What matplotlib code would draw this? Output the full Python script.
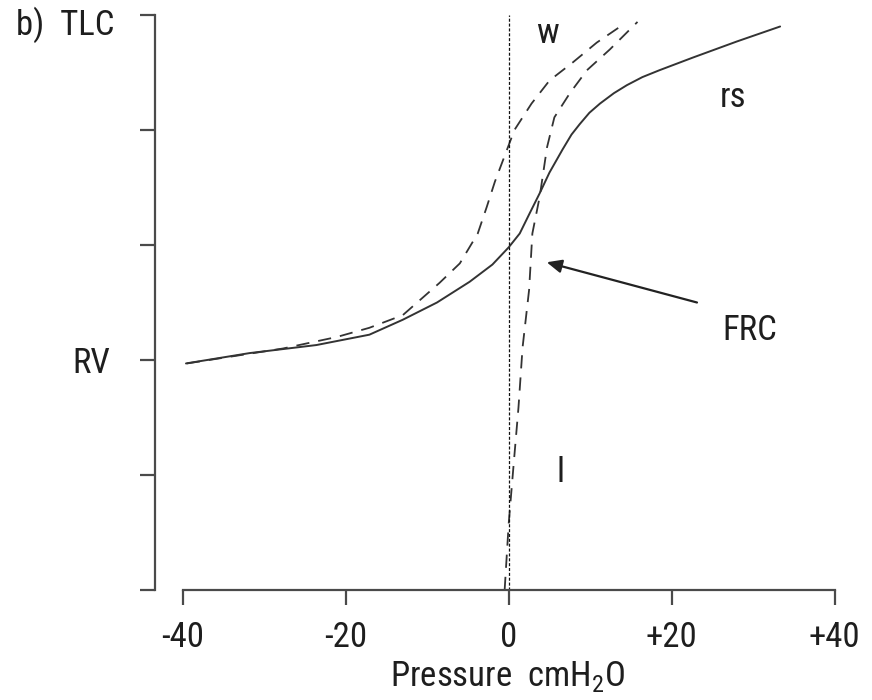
import matplotlib
matplotlib.use("Agg")
import matplotlib.pyplot as plt
from matplotlib import font_manager

# pressure (cmH2O) / volume (RV = 2, TLC = 5)
rs_x = [-39.6, -31.8, -23.6, -17.1, -13.0, -8.8, -4.8, -2.0, 0.0, 1.35, 2.6, 3.8,
        5.0, 6.6, 7.7, 8.7, 9.9, 11.2, 12.9, 14.5, 16.4, 18.5, 22.6, 28.0, 33.3]
rs_y = [1.97, 2.06, 2.13, 2.22, 2.35, 2.50, 2.68, 2.83, 2.98, 3.10, 3.28, 3.45,
        3.63, 3.83, 3.96, 4.05, 4.15, 4.23, 4.32, 4.39, 4.46, 4.52, 4.63, 4.77, 4.90]

w_x = [-39.5, -27.7, -21.1, -17.1, -13.0, -8.5, -6.0, -3.8, -2.7, -1.7, -0.1,
       0.7, 2.8, 5.0, 7.9, 10.8, 13.9]
w_y = [1.97, 2.10, 2.20, 2.28, 2.39, 2.67, 2.84, 3.10, 3.33, 3.55, 3.85,
       4.00, 4.23, 4.43, 4.59, 4.76, 4.91]

l_x = [-0.5, 0.0, 0.6, 1.2, 1.7, 2.5, 2.9, 3.8, 4.7, 5.6, 7.5, 9.6, 12.4, 15.8]
l_y = [0.0, 0.58, 1.09, 1.59, 2.11, 2.61, 3.10, 3.42, 3.85, 4.11, 4.32, 4.52, 4.70, 4.94]

x_ticks = [-40, -20, 0, 20, 40]
x_tick_labels = ["-40", "-20", "0", "+20", "+40"]
y_ticks = [0, 1, 2, 3, 4, 5]
y_tick_labels = ["", "", "RV", "", "", ""]

# prefer a condensed face if one is around
names = {f.name for f in font_manager.fontManager.ttflist}
narrow = [n for n in ['Liberation Sans Narrow', 'Roboto Condensed', 'Open Sans Condensed',
                      'DejaVu Sans Condensed'] if n in names]
plt.rcParams['font.family'] = narrow + ['Liberation Sans', 'DejaVu Sans']
plt.rcParams['font.stretch'] = 'condensed'
plt.rcParams['mathtext.fontset'] = 'custom'
plt.rcParams['mathtext.rm'] = (narrow + ['Liberation Sans'])[0]
plt.rcParams['lines.scale_dashes'] = False

LINE = '#333333'
AXC = '#4a4a4a'
TXT = '#1e1e1e'
FS = 25

fig = plt.figure(figsize=(8.72, 7.0), dpi=100)
ax = fig.add_axes([155 / 872, 110 / 700, 705 / 872, 575 / 700])
ax.set_xlim(-43.4, 43.1)
ax.set_ylim(0, 5)

ax.plot(rs_x, rs_y, color=LINE, lw=1.4, solid_capstyle='round')
ax.plot(w_x, w_y, color=LINE, lw=1.3, linestyle=(0, (9.5, 6.5)))
ax.plot(l_x, l_y, color=LINE, lw=1.3, linestyle=(0, (9.5, 6.5)), clip_on=False)
ax.plot([0, 0], [0, 5], color='#111111', lw=0.9, linestyle=(0, (2.2, 1.3)), clip_on=False)

ax.annotate('', xy=(4.66, 2.85), xytext=(23.1, 2.50),
            arrowprops=dict(arrowstyle='-|>,head_length=0.9,head_width=0.4',
                            color='#222222', lw=1.6, shrinkA=0, shrinkB=0))

for s in ['top', 'right']:
    ax.spines[s].set_visible(False)
ax.spines['left'].set_bounds(0, 5)
ax.spines['bottom'].set_bounds(-40, 40)
for s in ['left', 'bottom']:
    ax.spines[s].set_color(AXC)
    ax.spines[s].set_linewidth(1.6)

ax.set_xticks(x_ticks)
ax.set_xticklabels(x_tick_labels)
ax.set_yticks(y_ticks)
ax.set_yticklabels(y_tick_labels)
ax.tick_params(axis='both', direction='out', length=11, width=1.6, color=AXC,
               labelsize=FS, labelcolor=TXT)
ax.tick_params(axis='x', pad=11)
ax.tick_params(axis='y', pad=21)

ax.set_xlabel('Pressure  cmH$_2$O', fontsize=FS, color=TXT, labelpad=4)

fig.text(115 / 872, 1 - 25 / 700, 'b)  TLC', fontsize=FS, color=TXT,
         ha='right', va='center')

ax.text(4.8, 4.84, 'w', fontsize=FS, color=TXT, ha='center', va='center')
ax.text(27.5, 4.28, 'rs', fontsize=FS, color=TXT, ha='center', va='center')
ax.text(29.6, 2.26, 'FRC', fontsize=FS, color=TXT, ha='center', va='center')
ax.text(6.4, 1.02, 'l', fontsize=FS, color=TXT, ha='center', va='center')

fig.savefig('out.png', dpi=100)
